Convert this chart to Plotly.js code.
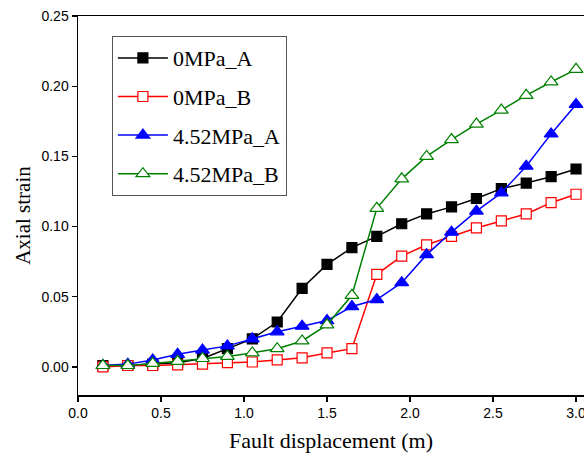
<!DOCTYPE html>
<html><head><meta charset="utf-8">
<script src="https://cdn.plot.ly/plotly-3.0.1.min.js"></script>
<style>html,body{margin:0;padding:0;background:#fff}#chart{width:584px;height:454px}</style>
</head><body><div id="chart"></div>
<script>
const displacement = [0.15,0.3,0.45,0.6,0.75,0.9,1.05,1.2,1.35,1.5,1.65,1.8,1.95,2.1,2.25,2.4,2.55,2.7,2.85,3.0];
const mpa0A = [0.001,0.001,0.002,0.003,0.006,0.013,0.020,0.032,0.056,0.073,0.085,0.093,0.102,0.109,0.114,0.120,0.127,0.131,0.1355,0.141];
const mpa0B = [0.000,0.001,0.001,0.0015,0.002,0.003,0.0035,0.005,0.0065,0.010,0.013,0.066,0.079,0.087,0.093,0.099,0.104,0.109,0.117,0.123];
const mpa452A = [0.001,0.002,0.005,0.009,0.012,0.015,0.020,0.025,0.029,0.033,0.043,0.048,0.060,0.080,0.096,0.111,0.124,0.143,0.166,0.187];
const mpa452B = [0.001,0.001,0.0025,0.004,0.006,0.0075,0.010,0.013,0.0185,0.030,0.051,0.113,0.134,0.150,0.162,0.173,0.183,0.1935,0.203,0.212];
const seriesNames = ['0MPa_A','0MPa_B','4.52MPa_A','4.52MPa_B'];

const mk = (y, name, color, symbol, size, fill, g) => ({
  x: displacement, y: y, name: name, type: 'scatter', mode: 'lines+markers',
  legendgroup: g,
  line: {color: color, width: 1.5},
  marker: {symbol: symbol, size: size, color: fill, line: {color: color, width: 1.2}}
});
const traces = [
  mk(mpa0A, seriesNames[0], '#000000', 'square', 10, '#000000', 'a'),
  mk(mpa0B, seriesNames[1], '#ff0000', 'square', 10, '#ffffff', 'b'),
  mk(mpa452A, seriesNames[2], '#0000ff', 'triangle-up', 12, '#0000ff', 'c'),
  mk(mpa452B, seriesNames[3], '#008000', 'triangle-up', 12, '#ffffff', 'd')
];
const serif = 'Liberation Serif, Times New Roman';
const axisCommon = {
  showline: true, linecolor: '#000', linewidth: 1.5, mirror: true,
  ticks: 'outside', ticklen: 5, tickwidth: 1.2, tickcolor: '#000',
  showgrid: false, zeroline: false, ticklabeloverflow: 'allow',
  tickfont: {family: 'Liberation Sans, Arial', size: 14, color: '#000'}
};
const layout = {
  width: 584, height: 454,
  margin: {l: 78, r: 0, t: 16, b: 59},
  paper_bgcolor: '#fff', plot_bgcolor: '#fff',
  showlegend: true,
  xaxis: Object.assign({}, axisCommon, {
    range: [0, 3.048], tickvals: [0,0.5,1,1.5,2,2.5,3], ticktext: ['0.0','0.5','1.0','1.5','2.0','2.5','3.0'],
    title: {text: 'Fault displacement (m)', font: {family: serif, size: 22, color: '#000'}, standoff: 12}
  }),
  yaxis: Object.assign({}, axisCommon, {
    range: [-0.02, 0.25], tickvals: [0,0.05,0.1,0.15,0.2,0.25], ticktext: ['0.00','0.05','0.10','0.15','0.20','0.25']
  }),
  annotations: [{
    text: 'Axial strain', xref: 'paper', yref: 'paper', x: -0.109, y: 0.475,
    xanchor: 'center', yanchor: 'middle', textangle: -90, showarrow: false,
    font: {family: serif, size: 21, color: '#000'}
  }],
  legend: {
    x: 0.067, y: 0.947, xanchor: 'left', yanchor: 'top',
    bordercolor: '#555', borderwidth: 1, bgcolor: '#fff',
    font: {family: serif, size: 22, color: '#000'},
    traceorder: 'grouped', tracegroupgap: 7, itemwidth: 50
  }
};
Plotly.newPlot('chart', traces, layout, {displayModeBar: false, staticPlot: true});
</script></body></html>
